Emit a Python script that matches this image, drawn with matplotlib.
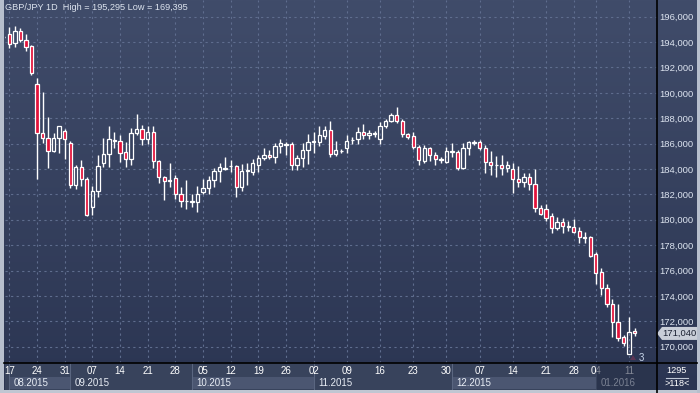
import numpy as np
import matplotlib.pyplot as plt
from matplotlib.patches import Rectangle, Polygon
from matplotlib.lines import Line2D
from matplotlib.colors import LinearSegmentedColormap

plt.rcParams['font.family'] = ['Liberation Sans', 'DejaVu Sans']

# GBP/JPY daily candles, 14 Aug 2015 .. 12 Jan 2016
open_ = [194.38, 194.64, 193.90, 194.85, 194.14, 193.67, 190.67, 186.81, 186.42, 185.44,
         186.42, 186.97, 186.02, 182.71, 184.13, 183.19, 181.03, 182.24, 184.45, 185.18,
         186.21, 186.23, 185.36, 184.76, 186.81, 187.13, 186.34, 186.94, 184.60, 183.34,
         183.06, 183.27, 182.00, 181.46, 181.40, 181.42, 182.16, 182.48, 183.13, 183.84,
         184.03, 184.21, 184.23, 182.60, 183.85, 183.79, 184.29, 184.84, 185.10, 184.92,
         185.81, 185.92, 185.97, 184.29, 184.84, 185.50, 186.13, 186.15, 186.62, 187.07,
         185.18, 185.40, 185.63, 186.26, 186.34, 186.94, 186.68, 186.79, 186.34, 187.39,
         187.78, 188.25, 187.80, 186.73, 186.60, 185.71, 184.65, 185.63, 185.08, 184.74,
         184.57, 185.34, 185.36, 184.10, 185.63, 186.08, 186.15, 185.63, 184.57, 184.29,
         184.31, 184.05, 183.97, 183.19, 182.95, 183.34, 182.82, 180.90, 180.82, 180.30,
         179.32, 179.80, 179.46, 179.40, 179.11, 178.60, 178.62, 177.27, 175.86, 174.60,
         173.36, 171.92, 170.78, 169.45, 171.20]
high = [194.48, 195.20, 195.295, 195.08, 194.64, 193.80, 191.15, 190.07, 188.07, 186.81,
        187.40, 187.17, 186.20, 184.29, 184.71, 183.35, 182.69, 185.08, 186.47, 187.39,
        186.89, 186.68, 186.10, 187.20, 188.33, 187.49, 187.39, 187.39, 184.71, 183.45,
        184.45, 183.50, 182.56, 183.13, 182.00, 182.66, 183.21, 183.44, 184.10, 184.45,
        184.92, 184.71, 184.35, 184.39, 184.45, 184.76, 185.10, 185.63, 185.50, 186.02,
        186.36, 186.10, 186.10, 185.10, 186.02, 186.76, 186.94, 187.39, 187.39, 187.78,
        186.23, 185.55, 186.68, 186.55, 187.28, 187.54, 187.07, 187.02, 187.73, 187.91,
        188.39, 188.86, 187.91, 186.86, 186.94, 185.89, 185.89, 185.76, 185.36, 184.97,
        185.76, 186.07, 185.50, 186.02, 186.18, 186.30, 186.30, 185.89, 185.44, 185.02,
        185.10, 184.63, 184.45, 184.23, 183.71, 183.65, 183.97, 181.16, 181.24, 180.55,
        180.19, 180.11, 179.93, 180.06, 179.45, 179.06, 178.72, 177.48, 176.22, 174.93,
        173.73, 173.36, 170.91, 172.31, 171.45]
low = [194.32, 193.53, 193.59, 194.00, 193.32, 191.38, 183.23, 186.07, 184.10, 185.34,
       185.30, 184.81, 182.53, 182.45, 182.68, 180.32, 180.40, 181.82, 184.18, 184.18,
       185.63, 184.57, 184.18, 184.31, 186.68, 185.89, 185.97, 184.10, 182.92, 181.56,
       182.56, 181.61, 180.98, 180.87, 181.03, 180.63, 182.00, 182.00, 182.56, 183.00,
       183.90, 183.79, 181.82, 182.29, 182.74, 183.50, 183.79, 184.70, 184.76, 184.50,
       185.24, 185.10, 183.92, 183.90, 184.13, 184.39, 185.24, 185.81, 186.40, 184.97,
       185.00, 185.30, 185.30, 185.97, 185.97, 186.40, 186.40, 186.55, 185.97, 187.20,
       187.73, 187.60, 186.54, 186.40, 185.55, 184.31, 184.50, 184.65, 184.31, 184.45,
       184.44, 184.97, 183.92, 183.97, 185.10, 185.89, 185.50, 183.71, 183.53, 183.39,
       183.55, 183.76, 182.13, 182.55, 182.55, 182.37, 180.63, 180.37, 179.92, 178.98,
       179.18, 178.93, 179.14, 178.98, 178.14, 178.19, 177.09, 174.93, 174.07, 173.10,
       170.74, 170.47, 170.05, 169.395, 170.86]
close = [194.42, 193.85, 194.85, 194.16, 193.64, 191.54, 186.81, 186.42, 185.39, 186.42,
         187.36, 186.34, 182.71, 184.13, 183.19, 180.40, 182.24, 184.23, 185.18, 186.34,
         186.25, 185.24, 184.76, 186.81, 187.13, 186.34, 186.94, 184.60, 183.34, 183.03,
         183.10, 182.00, 181.48, 181.50, 181.44, 182.00, 182.48, 183.13, 183.84, 184.18,
         184.07, 184.25, 182.60, 183.87, 183.89, 184.45, 184.84, 185.10, 184.92, 185.81,
         186.02, 185.96, 184.29, 184.84, 185.50, 186.10, 186.17, 186.68, 187.07, 185.18,
         185.50, 185.44, 186.20, 186.30, 186.94, 186.68, 186.86, 186.83, 187.39, 187.78,
         188.25, 187.80, 186.73, 186.54, 185.71, 184.71, 185.63, 185.10, 184.76, 184.78,
         185.42, 185.38, 184.10, 185.63, 186.10, 186.12, 185.63, 184.57, 184.31, 184.33,
         184.05, 184.31, 183.19, 182.95, 183.34, 182.82, 180.90, 180.43, 180.16, 179.32,
         179.80, 179.48, 179.50, 179.06, 178.62, 178.64, 177.17, 175.83, 174.60, 173.36,
         171.92, 170.66, 170.26, 171.18, 171.04]

# week labels and number of daily candles in each week (first candle is Fri 14 Aug)
week_labels = ['17', '24', '31', '07', '14', '21', '28', '05', '12', '19', '26',
               '02', '09', '16', '23', '30', '07', '14', '21', '28', '04', '11']
week_counts = [5, 5, 5, 5, 5, 5, 5, 5, 5, 5, 5, 6, 6, 6, 6, 6, 6, 6, 5, 4, 6, 2]
month_labels = ['08.2015', '09.2015', '10.2015', '11.2015', '12.2015', '01.2016']
month_first = [1, 12, 34, 56, 81, 107]   # candle number of first day of month
last_price = '171,040'

W, H = 700, 393
def fx(x): return x / W
def fy(y): return 1 - y / H

n = len(open_)
xs = np.arange(n) - 1          # -1 = Fri 14 Aug
week_pos = np.concatenate([[0], np.cumsum(week_counts)[:-1]])
month_pos = np.array(month_first) - 1

fig = plt.figure(figsize=(7, 3.93), dpi=100)

bg = fig.add_axes([0, 0, 1, 1], zorder=-10)
cmap = LinearSegmentedColormap.from_list('bg', ['#404c6a', '#2b3552'])
bg.imshow(np.linspace(0, 1, 256)[:, None], aspect='auto', cmap=cmap, extent=[0, 1, 0, 1])
bg.axis('off')

ax = fig.add_axes([fx(4.5), fy(363), fx(656.7 - 4.5), 363 / H])
ax.patch.set_alpha(0)
xlim = (-0.87, 117.0)
ax.set_xlim(*xlim)
ax.set_ylim(168.71, 197.32)
for s in ax.spines.values():
    s.set_visible(False)

yt = np.arange(170, 197, 2)
ax.set_yticks(yt)
ax.set_yticklabels([f'{v:.3f}'.replace('.', ',') for v in yt])
ax.yaxis.tick_right()
ax.tick_params(axis='y', length=0, pad=2, labelsize=6.8, labelcolor='#dde4f0')
ax.set_xticks(week_pos)
ax.set_xticklabels([])
ax.tick_params(axis='x', length=0)
ax.grid(color='#5f6d8e', ls=(0, (2, 3)), lw=0.8)
ax.set_axisbelow(True)

red = '#e3123a'
for x, o, h, l, c in zip(xs, open_, high, low, close):
    top, bot = max(o, c), min(o, c)
    ax.vlines(x, top, h, color='white', lw=1, zorder=3)
    ax.vlines(x, l, bot, color='white', lw=1, zorder=3)
    fc = red if c < o else 'none'
    ax.bar(x, max(top - bot, 0.04), bottom=bot, width=0.6, facecolor=fc,
           edgecolor='white', lw=0.9, zorder=4)

# bottom date panel
axb = fig.add_axes([fx(4.5), fy(390), fx(656.7 - 4.5), 27 / H])
axb.set_facecolor('#38435c')
axb.set_xlim(*xlim)
axb.set_ylim(0, 1)
axb.set_xticks([])
axb.set_yticks([])
for s in axb.spines.values():
    s.set_visible(False)

edges = list(month_pos) + [xlim[1]]
for k, lab in enumerate(month_labels):
    a, b = edges[k], edges[k + 1]
    if k % 2 == 0:
        axb.add_patch(Rectangle((a, 0.03), b - a, 0.47, color='#4b5671', lw=0))
    axb.vlines(a, 0, 1, color='#5a6680', lw=0.8)
    axb.text(a + 0.8, 0.27, lab, fontsize=7, color='#e8edf5', va='center')
for p, lab in zip(week_pos, week_labels):
    axb.text(p, 0.72, lab, fontsize=7, color='white', ha='center', va='center')
axb.add_patch(Rectangle((month_pos[-1], 0), xlim[1] - month_pos[-1], 1,
                        color='#1f2841', alpha=0.55, lw=0, zorder=5))

# frame and separators
fig.add_artist(Line2D([fx(656.7)] * 2, [0, 1], color='black', lw=1.2))
fig.add_artist(Line2D([fx(4), fx(697)], [fy(363)] * 2, color='black', lw=1.2))
fig.patches.append(Rectangle((0, 0), fx(3.5), 1, transform=fig.transFigure,
                             color='#b7bfcd', lw=0))
fig.patches.append(Rectangle((0, 0), 1, 3 / H, transform=fig.transFigure,
                             color='#c0c6d2', lw=0))
fig.patches.append(Rectangle((fx(697), 0), fx(3), 1, transform=fig.transFigure,
                             color='#b7bfcd', lw=0))

fig.text(fx(5), fy(8), 'GBP/JPY 1D  High = 195,295 Low = 169,395',
         fontsize=6.6, color='#dce3ee', va='center')

# last price tag
ly = fy(16.7 + (196 - close[-1]) * 12.69)
tag = Polygon([[fx(657), ly], [fx(662), ly + 6.5 / H], [fx(697), ly + 6.5 / H],
               [fx(697), ly - 6.5 / H], [fx(662), ly - 6.5 / H]],
              closed=True, transform=fig.transFigure, color='#c9ced8', lw=0)
fig.patches.append(tag)
fig.text(fx(679.5), ly, last_price, fontsize=6.8, color='#1c2233', ha='center', va='center')

fig.text(fx(641), fy(358), '3', fontsize=7, color='#c7d5ea', ha='center', va='center')
fig.patches.append(Polygon([[fx(630), fy(360)], [fx(636), fy(360)], [fx(633), fy(355)]],
                           closed=True, transform=fig.transFigure, color='#5b3553', lw=0))

fig.text(fx(677), fy(370.5), '1295', fontsize=6.6, color='white', ha='center', va='center')
fig.add_artist(Line2D([fx(666), fx(688)], [fy(377.5)] * 2, color='#c0c8d6', lw=0.8))
fig.text(fx(677), fy(384), '>118<', fontsize=6.6, color='white', ha='center', va='center')

fig.savefig('out.png', dpi=100)
